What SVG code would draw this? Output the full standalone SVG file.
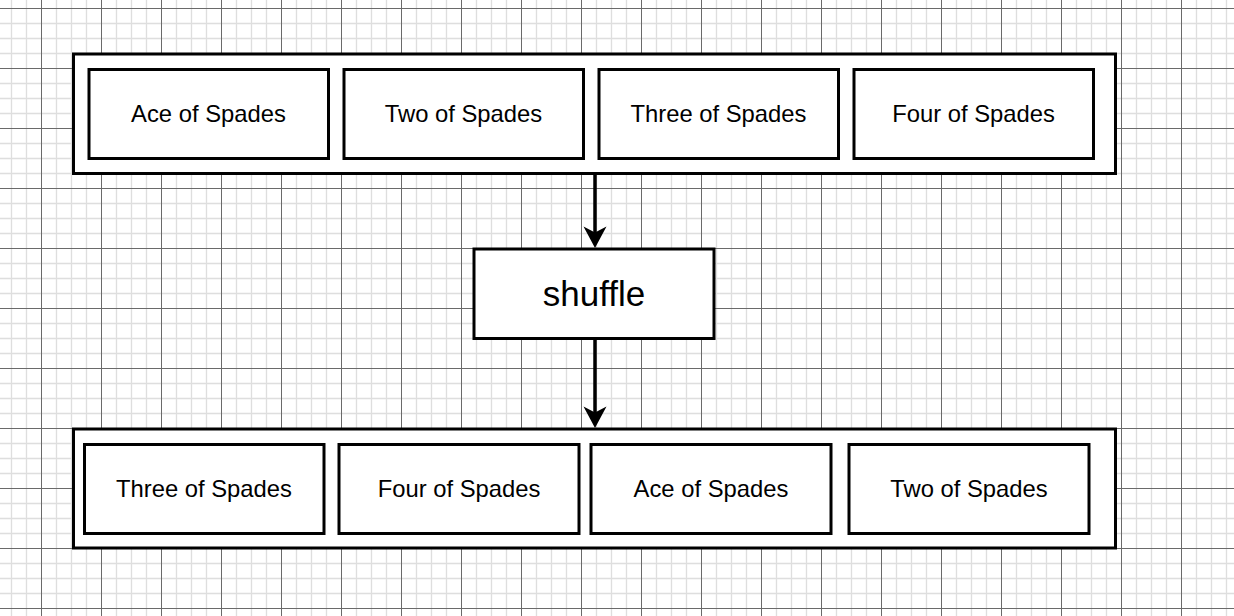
<svg xmlns="http://www.w3.org/2000/svg" width="1234" height="616" viewBox="0 0 1234 616">
<style>
.box{fill:#fff;stroke:#000;stroke-width:3}
.lbl{font-family:"Liberation Sans",Arial,sans-serif;font-size:23.8px;fill:#000;text-anchor:middle}
.big{font-family:"Liberation Sans",Arial,sans-serif;font-size:35px;fill:#000;text-anchor:middle}
.conn{stroke:#000;stroke-width:3.5;fill:none}
</style>
<defs>
<pattern id="grid" patternUnits="userSpaceOnUse" x="41" y="8" width="60" height="60">
<rect width="60" height="60" fill="#fff"/>
<path d="M15.5 0V60M30.5 0V60M45.5 0V60M0 15.5H60M0 30.5H60M0 45.5H60" stroke="#dedede" stroke-width="1.3"/>
<path d="M0.5 0V60M0 0.5H60" stroke="#6a6a6a" stroke-width="1"/>
</pattern>
</defs>
<rect width="1234" height="616" fill="url(#grid)"/>
<g id="top-deck">
<rect class="box" x="73.5" y="54" width="1042" height="119.5"/>
<g id="top-ace"><rect class="box" x="89" y="69.5" width="239.5" height="89"/><text class="lbl" x="208.5" y="122">Ace of Spades</text></g>
<g id="top-two"><rect class="box" x="344" y="69.5" width="239.5" height="89"/><text class="lbl" x="463.5" y="122">Two of Spades</text></g>
<g id="top-three"><rect class="box" x="599" y="69.5" width="239.5" height="89"/><text class="lbl" x="718.5" y="122">Three of Spades</text></g>
<g id="top-four"><rect class="box" x="854" y="69.5" width="239.5" height="89"/><text class="lbl" x="973.5" y="122">Four of Spades</text></g>
</g>
<g id="shuffle">
<rect class="box" x="474" y="249" width="240" height="89.5"/>
<text class="big" x="594" y="306">shuffle</text>
</g>
<g id="bottom-deck">
<rect class="box" x="73.5" y="429" width="1042" height="119"/>
<g id="bot-three"><rect class="box" x="84.5" y="444.5" width="239.5" height="89"/><text class="lbl" x="204" y="497">Three of Spades</text></g>
<g id="bot-four"><rect class="box" x="339" y="444.5" width="240" height="89"/><text class="lbl" x="459" y="497">Four of Spades</text></g>
<g id="bot-ace"><rect class="box" x="591" y="444.5" width="240" height="89"/><text class="lbl" x="711" y="497">Ace of Spades</text></g>
<g id="bot-two"><rect class="box" x="849" y="444.5" width="240" height="89"/><text class="lbl" x="969" y="497">Two of Spades</text></g>
</g>
<g id="connectors">
<path class="conn" d="M595 175V236"/>
<polygon points="595,248 583.5,226.5 595,232.5 606.5,226.5" fill="#000"/>
<path class="conn" d="M595 340V416"/>
<polygon points="595,428 583.5,406.5 595,412.5 606.5,406.5" fill="#000"/>
</g>
</svg>
